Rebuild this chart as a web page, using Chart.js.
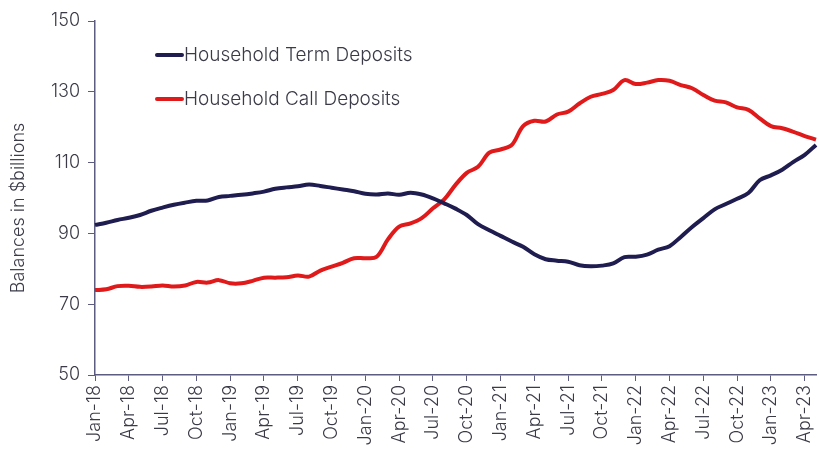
<!DOCTYPE html>
<html>
<head>
<meta charset="utf-8">
<script src="https://cdn.jsdelivr.net/npm/chart.js@4"></script>
<style>
  html, body { margin: 0; padding: 0; background: #fff; overflow: hidden; }
  #wrap { width: 819px; height: 450px; position: relative; }
</style>
</head>
<body>
<div id="wrap"><canvas id="chart" width="819" height="450"></canvas></div>
<script>
// ===== DATA =====
var months = ['Jan','Feb','Mar','Apr','May','Jun','Jul','Aug','Sep','Oct','Nov','Dec'];
var labels = [];
for (var yr = 18; yr <= 23; yr++) {
    months.forEach(function(m, mi) {
        if (yr === 23 && mi > 4) return;
        labels.push(m + '-' + yr);
    });
}

var termDeposits = [
    92.4, 93.0, 93.8, 94.4, 95.2, 96.4, 97.3, 98.1, 98.7, 99.2, 99.3, 100.3,
    100.6, 100.9, 101.3, 101.8, 102.6, 103.0, 103.3, 103.8, 103.4, 102.9, 102.4, 101.9,
    101.2, 101.0, 101.3, 100.9, 101.5, 101.0, 99.9, 98.5, 97.0, 95.2, 92.6, 90.9,
    89.3, 87.7, 86.2, 84.1, 82.7, 82.3, 82.0, 81.0, 80.7, 80.9, 81.5, 83.3,
    83.4, 84.0, 85.4, 86.4, 89.0, 91.8, 94.3, 96.8, 98.3, 99.8, 101.4, 105.0,
    106.4, 108.0, 110.2, 112.2, 115.0
];

var callDeposits = [
    74.0, 74.2, 75.1, 75.2, 74.9, 75.0, 75.3, 75.0, 75.3, 76.3, 76.1, 76.8,
    75.9, 75.9, 76.6, 77.5, 77.5, 77.6, 78.1, 77.8, 79.5, 80.6, 81.7, 83.0,
    83.0, 83.4, 88.3, 91.9, 92.8, 94.3, 97.1, 99.6, 103.7, 107.1, 108.8, 112.8,
    113.7, 115.0, 120.3, 121.8, 121.6, 123.6, 124.4, 126.7, 128.6, 129.4, 130.5, 133.3,
    132.2, 132.6, 133.3, 133.1, 131.9, 131.0, 129.1, 127.5, 127.0, 125.6, 124.9, 122.5,
    120.3, 119.7, 118.7, 117.5, 116.5
];

var yTicks = [50, 70, 90, 110, 130, 150];
var yTitle = 'Balances in $billions';

var NAVY = '#1f1c4f';
var RED = '#e01a1a';
var AXIS = '#5c5c80';
var TEXT = '#3b3b48';
var FONT = 'Inter, "Open Sans", sans-serif';

// ===== LEGEND + AXIS TITLE (drawn by hand) =====
var extras = {
    id: 'extras',
    afterDraw: function(chart) {
        var ctx = chart.ctx;
        ctx.save();
        chart.data.datasets.forEach(function(ds, i) {
            var y = 55 + i * 44;
            ctx.strokeStyle = ds.borderColor;
            ctx.lineWidth = 4;
            ctx.lineCap = 'round';
            ctx.beginPath();
            ctx.moveTo(157, y);
            ctx.lineTo(182, y);
            ctx.stroke();
            ctx.fillStyle = TEXT;
            ctx.font = '300 19px ' + FONT;
            ctx.textBaseline = 'middle';
            ctx.textAlign = 'left';
            ctx.fillText(ds.label, 184, y);
        });
        // rotated y title
        ctx.translate(19, 208);
        ctx.rotate(-Math.PI / 2);
        ctx.fillStyle = TEXT;
        ctx.font = '300 18px ' + FONT;
        ctx.textAlign = 'center';
        ctx.textBaseline = 'middle';
        ctx.fillText(yTitle, 0, 0);
        ctx.restore();
    }
};

new Chart(document.getElementById('chart'), {
    type: 'line',
    data: {
        labels: labels,
        datasets: [{
            label: 'Household Term Deposits',
            data: termDeposits,
            borderColor: NAVY,
            borderWidth: 4,
            pointRadius: 0,
            tension: 0.35
        }, {
            label: 'Household Call Deposits',
            data: callDeposits,
            borderColor: RED,
            borderWidth: 4,
            pointRadius: 0,
            tension: 0.35
        }]
    },
    options: {
        responsive: false,
        animation: false,
        layout: { padding: { top: 21, right: 3, left: 0, bottom: 0 } },
        plugins: {
            legend: { display: false },
            tooltip: { enabled: false }
        },
        scales: {
            x: {
                grid: {
                    drawOnChartArea: false,
                    tickLength: 6,
                    color: function(c) { return c.index % 3 === 0 ? AXIS : 'rgba(0,0,0,0)'; }
                },
                border: { color: AXIS, width: 1.5 },
                ticks: {
                    autoSkip: false,
                    maxRotation: 90,
                    minRotation: 90,
                    padding: 4,
                    color: TEXT,
                    font: { family: FONT, size: 18, weight: 300 },
                    callback: function(v, i) { return i % 3 === 0 ? labels[i] : ''; }
                },
                afterFit: function(s) {
                    s.height = 75;
                    s.paddingLeft = 0;
                    s.paddingRight = 0;
                }
            },
            y: {
                min: 50,
                max: 150,
                afterBuildTicks: function(s) {
                    s.ticks = yTicks.map(function(v) { return { value: v }; });
                },
                grid: { drawOnChartArea: false, tickLength: 7, color: AXIS },
                border: { color: AXIS, width: 1.5 },
                ticks: {
                    color: TEXT,
                    padding: 8,
                    font: { family: FONT, size: 18, weight: 300 }
                },
                afterFit: function(s) {
                    s.width = 95;
                    s.paddingTop = 0;
                    s.paddingBottom = 0;
                }
            }
        }
    },
    plugins: [extras]
});
</script>
</body>
</html>
